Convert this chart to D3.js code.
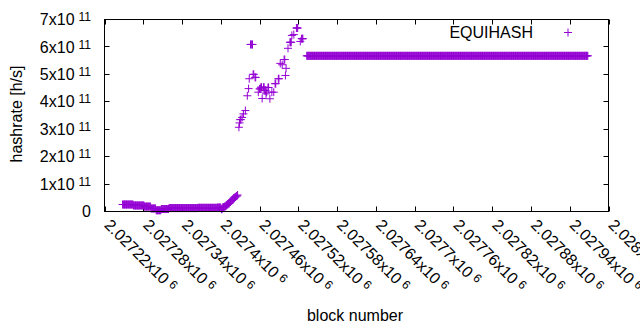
<!DOCTYPE html>
<html>
<head>
<meta charset="utf-8">
<script src="https://cdn.jsdelivr.net/npm/d3@7"></script>
<style>
    body { margin: 0; background: #fff; }
    text { font-family: "Liberation Sans", Arial, sans-serif; fill: #000; }
</style>
</head>
<body>
<div id="chart"></div>
<script>

// runs of consecutive blocks that share one hashrate value
var runStart = [
    2027248, 2027265, 2027282, 2027292, 2027300, 2027308, 2027320, 2027365, 2027395, 2027401,
    2027403, 2027404, 2027406, 2027408, 2027410, 2027412, 2027414, 2027416, 2027418, 2027420,
    2027422, 2027424, 2027426,
    2027428, 2027429, 2027430, 2027433, 2027435, 2027438, 2027441, 2027443, 2027444, 2027446,
    2027450, 2027453, 2027458, 2027460, 2027462, 2027464, 2027466, 2027468, 2027470, 2027471,
    2027473, 2027476, 2027479, 2027482, 2027484, 2027489, 2027492, 2027495, 2027498, 2027500,
    2027501, 2027504, 2027507, 2027510, 2027513, 2027517, 2027523, 2027525, 2027533
];
var runLength = [
    17, 17, 10, 8, 8, 12, 45, 30, 6, 2,
    1, 2, 2, 2, 2, 2, 2, 2, 2, 2,
    2, 2, 1,
    1, 1, 2, 1, 1, 1, 1, 1, 1, 4,
    2, 2, 1, 2, 2, 1, 2, 2, 1, 1,
    2, 1, 1, 1, 2, 2, 1, 1, 2, 1,
    1, 1, 3, 1, 1, 3, 1, 3, 436
];
// hashrate in units of 10^9 h/s
var runRate = [
    25.5, 22, 18, 11, 4.5, 9, 12.5, 13.5, 14.5, 8.5,
    15, 16.4, 18.2, 21.9, 25.5, 29.2, 34.6, 40.1, 43.8, 49.2,
    52.9, 56.5, 60.2,
    307, 323, 335, 343, 356, 368, 422, 448, 484, 609,
    500, 489, 435, 447, 453, 412, 453, 441, 429, 435,
    452, 411, 435, 435, 466, 484, 540, 535, 554, 496,
    522, 595, 617, 642, 645, 669, 620, 630, 567.6
];

var seriesName = 'EQUIHASH';
var xTicks = [2027220, 2027280, 2027340, 2027400, 2027460, 2027520, 2027580,
    2027640, 2027700, 2027760, 2027820, 2027880, 2027940, 2028000];
var yTicks = [0, 1e11, 2e11, 3e11, 4e11, 5e11, 6e11, 7e11];

function drawHashrate(target) {

    var width = 640;
    var height = 330;
    var color = '#9400d3';
    var tickLen = 5;
    var fontSize = '16px';
    var supSize = '12px';

    var svg = d3.select('#' + target)
        .append('svg')
        .attr('width', width)
        .attr('height', height);

    var x = d3.scaleLinear()
        .domain([xTicks[0], xTicks[xTicks.length - 1]])
        .range([104.5, 608.5]);

    var y = d3.scaleLinear()
        .domain([0, 7e11])
        .range([211.5, 19.5]);

    // expand the runs into one point per block
    var points = [];
    runStart.forEach(function (start, i) {
        for (var k = 0; k < runLength[i]; k++) {
            points.push({block: start + k, rate: runRate[i] * 1e9});
        }
    });

    var plus = 'M-4,0H4M0,-4V4';

    // ticks on all four sides (mirrored)
    var ticks = svg.append('g')
        .attr('stroke', '#000')
        .attr('stroke-width', 1);

    xTicks.forEach(function (t) {
        var px = Math.round(x(t)) + 0.5;
        ticks.append('line').attr('x1', px).attr('x2', px)
            .attr('y1', y.range()[0]).attr('y2', y.range()[0] - tickLen);
        ticks.append('line').attr('x1', px).attr('x2', px)
            .attr('y1', y.range()[1]).attr('y2', y.range()[1] + tickLen);
    });
    yTicks.forEach(function (t) {
        var py = Math.round(y(t) - 0.5) + 0.5;
        ticks.append('line').attr('x1', x.range()[0]).attr('x2', x.range()[0] + tickLen)
            .attr('y1', py).attr('y2', py);
        ticks.append('line').attr('x1', x.range()[1]).attr('x2', x.range()[1] - tickLen)
            .attr('y1', py).attr('y2', py);
    });

    // y tick labels, "Nx10^11"
    var yLab = svg.selectAll('.ylab')
        .data(yTicks)
        .enter().append('text')
        .attr('class', 'ylab')
        .attr('x', 91)
        .attr('y', function (d) { return y(d); })
        .attr('dy', '0.35em')
        .attr('text-anchor', 'end')
        .style('font-size', fontSize);
    yLab.append('tspan')
        .text(function (d) { return d === 0 ? '0' : (d / 1e11) + 'x10'; });
    yLab.filter(function (d) { return d !== 0; })
        .append('tspan')
        .attr('dx', 4)
        .attr('dy', -4)
        .style('font-size', supSize)
        .text('11');

    // x tick labels, rotated, "N x10^6"
    var xLab = svg.selectAll('.xlab')
        .data(xTicks)
        .enter().append('text')
        .attr('class', 'xlab')
        .attr('transform', function (d) {
            return 'translate(' + (x(d) - 1) + ',226) rotate(45)';
        })
        .style('font-size', fontSize);
    xLab.append('tspan')
        .text(function (d) { return +(d / 1e6).toFixed(5) + 'x10'; });
    xLab.append('tspan')
        .attr('dx', 4)
        .attr('dy', -4)
        .style('font-size', supSize)
        .text('6');

    // axis titles
    svg.append('text')
        .attr('transform', 'translate(22,114) rotate(-90)')
        .attr('text-anchor', 'middle')
        .style('font-size', fontSize)
        .text('hashrate [h/s]');

    svg.append('text')
        .attr('x', 355)
        .attr('y', 321)
        .attr('text-anchor', 'middle')
        .style('font-size', fontSize)
        .text('block number');

    // data points
    svg.append('g')
        .selectAll('path')
        .data(points)
        .enter().append('path')
        .attr('transform', function (d) {
            return 'translate(' + x(d.block) + ',' + y(d.rate) + ')';
        })
        .attr('d', plus)
        .attr('fill', 'none')
        .attr('stroke', color)
        .attr('stroke-width', 1);

    // key
    svg.append('text')
        .attr('x', 533)
        .attr('y', 37.5)
        .attr('text-anchor', 'end')
        .style('font-size', fontSize)
        .text(seriesName);
    svg.append('path')
        .attr('transform', 'translate(568,32.5)')
        .attr('d', plus)
        .attr('fill', 'none')
        .attr('stroke', color);

    // border on top
    svg.append('rect')
        .attr('x', x.range()[0])
        .attr('y', y.range()[1])
        .attr('width', x.range()[1] - x.range()[0])
        .attr('height', y.range()[0] - y.range()[1])
        .attr('fill', 'none')
        .attr('stroke', '#000')
        .attr('stroke-width', 1);
}

drawHashrate('chart');
</script>
</body>
</html>
